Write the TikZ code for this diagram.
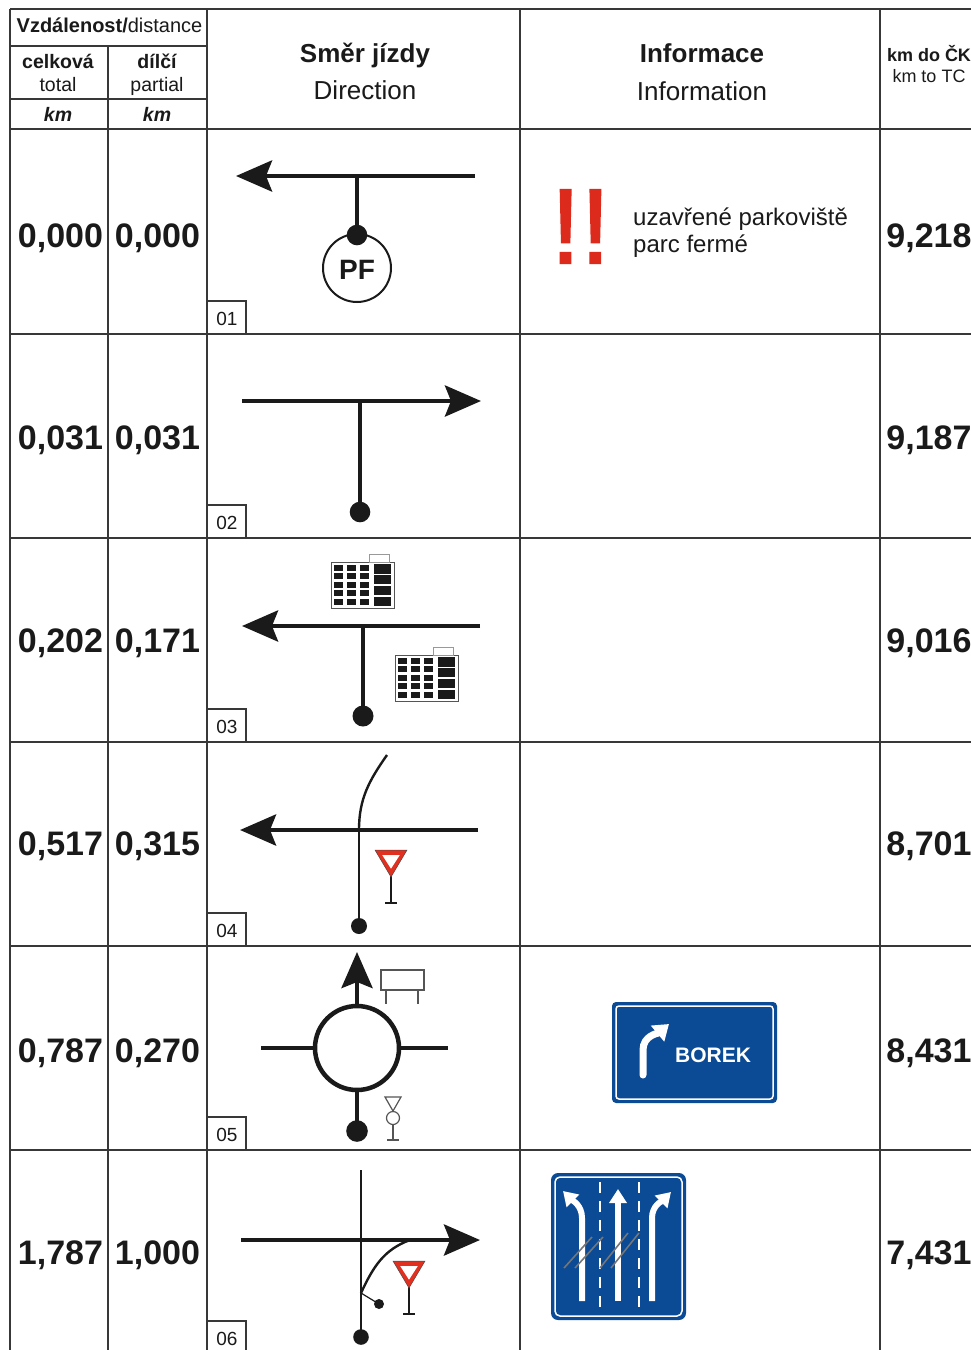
\documentclass[tikz,border=0pt]{standalone}
\usepackage{fontspec}
\setmainfont{Liberation Sans}
\newfontfamily\exfont[FakeBold=1.6]{Liberation Sans}
\usetikzlibrary{arrows.meta}
\definecolor{ink}{HTML}{1A1A1A}
\definecolor{grid}{HTML}{383838}
\definecolor{bgray}{HTML}{555555}
\definecolor{signblue}{HTML}{0B4A94}
\definecolor{alarm}{HTML}{DC2B1C}
\definecolor{yieldred}{HTML}{E1301F}
\definecolor{hatch}{HTML}{767676}
\tikzset{
  building/.pic={
    \draw[draw=bgray, line width=0.9pt, fill=white] (0,0) rectangle (63,46);
    \draw[draw=bgray!60, line width=0.9pt] (38,0) rectangle (58,-8);
    \foreach \i in {0,1,2} \foreach \j in {0,...,4}
      \fill[ink] ({3.3+13*\i},{2.6+8.6*\j}) rectangle ++(8.8,6);
    \foreach \j in {0,...,3}
      \fill[ink] (43,{2.4+10.7*\j}) rectangle ++(17,9.2);
  },
  yieldsign/.pic={
    \draw[ink, line width=1.3pt] (0,26) -- (0,53);
    \draw[ink, line width=1.3pt] (-6,53) -- (6,53);
    \filldraw[fill=yieldred, draw=ink!80, line width=0.5pt] (-16,0) -- (16,0) -- (0,27) -- cycle;
    \fill[white] (-8.8,5) -- (8.8,5) -- (0,18.7) -- cycle;
  }
}
\begin{document}
\begin{tikzpicture}[x=1pt,y=-1pt,
  gridline/.style={draw=grid, line width=1.3pt},
  road/.style={draw=ink, line width=4.5pt},
  thinroad/.style={draw=ink, line width=2.4pt},
  bigtip/.tip={Stealth[length=36pt,width=31pt,inset=6pt]},
  numtxt/.style={font=\bfseries\fontsize{34}{36}\selectfont, text=ink, inner sep=0pt, anchor=base},
  hdb/.style={font=\bfseries\fontsize{19.5}{21}\selectfont, text=ink, inner sep=0pt, anchor=base},
  hdr/.style={font=\fontsize{19.5}{21}\selectfont, text=ink, inner sep=0pt, anchor=base},
  bigb/.style={font=\bfseries\fontsize{26}{28}\selectfont, text=ink, inner sep=0pt, anchor=base},
  bigr/.style={font=\fontsize{26}{28}\selectfont, text=ink, inner sep=0pt, anchor=base},
  tcb/.style={font=\bfseries\fontsize{18}{20}\selectfont, text=ink, inner sep=0pt, anchor=base},
  tcr/.style={font=\fontsize{18}{20}\selectfont, text=ink, inner sep=0pt, anchor=base},
  idx/.style={font=\fontsize{19}{21}\selectfont, text=ink, inner sep=0pt, anchor=base},
  infotxt/.style={font=\fontsize{24}{27}\selectfont, text=ink, inner sep=0pt, anchor=base west},
  smallsym/.style={draw=bgray, line width=1.2pt}
]
\useasboundingbox (0,0) rectangle (971,1350);
\fill[white] (0,0) rectangle (971,1350);
\clip (0,0) rectangle (971,1350);

% ---------- grid ----------
\draw[gridline] (10,9) -- (1000,9);
\foreach \x in {10,207,520,880} \draw[gridline] (\x,9) -- (\x,1360);
\draw[gridline] (108,46) -- (108,1360);
\draw[gridline] (10,46) -- (207,46);
\draw[gridline] (10,99) -- (207,99);
\foreach \y in {129,334,538,742,946,1150} \draw[gridline] (10,\y) -- (1000,\y);
\foreach \b/\n in {334/01,538/02,742/03,946/04,1150/05,1354/06}{
  \draw[gridline] (207,\b-33) -- (246,\b-33) -- (246,\b);
  \node[idx] (idx\n) at (227,\b-9) {\n};
}

% ---------- header ----------
\node[inner sep=0pt, anchor=base, text=ink] (hdist) at (109.5,32)
  {\fontsize{20}{21}\selectfont\textbf{Vzdálenost/}distance};
\node[hdb] (hcel) at (58,68) {celková};
\node[hdr] (htot) at (58,91) {total};
\node[hdb] (hdil) at (157,68) {dílčí};
\node[hdr] (hpar) at (157,91) {partial};
\node[hdb, font=\bfseries\itshape\fontsize{19.5}{21}\selectfont] (hkm1) at (58,121) {km};
\node[hdb, font=\bfseries\itshape\fontsize{19.5}{21}\selectfont] (hkm2) at (157,121) {km};
\node[bigb] (hsm) at (365,62) {Směr jízdy};
\node[bigr] (hdir) at (365,99) {Direction};
\node[bigb] (hinf) at (702,62) {Informace};
\node[bigr] (hinfo) at (702,100) {Information};
\node[tcb] (hck) at (929,61) {km do ČK};
\node[tcr] (htc) at (929,82) {km to TC};

% ---------- distances ----------
\node[numtxt] (t1) at (60.5,247) {0,000};  \node[numtxt] (p1) at (157.5,247) {0,000};  \node[numtxt] (c1) at (929,247) {9,218};
\node[numtxt] (t2) at (60.5,449) {0,031};  \node[numtxt] (p2) at (157.5,449) {0,031};  \node[numtxt] (c2) at (929,449) {9,187};
\node[numtxt] (t3) at (60.5,652) {0,202};  \node[numtxt] (p3) at (157.5,652) {0,171};  \node[numtxt] (c3) at (929,652) {9,016};
\node[numtxt] (t4) at (60.5,855) {0,517};  \node[numtxt] (p4) at (157.5,855) {0,315};  \node[numtxt] (c4) at (929,855) {8,701};
\node[numtxt] (t5) at (60.5,1062) {0,787}; \node[numtxt] (p5) at (157.5,1062) {0,270}; \node[numtxt] (c5) at (929,1062) {8,431};
\node[numtxt] (t6) at (60.5,1264) {1,787}; \node[numtxt] (p6) at (157.5,1264) {1,000}; \node[numtxt] (c6) at (929,1264) {7,431};

% ---------- row 1 ----------
\coordinate (r1e) at (475,176); \coordinate (r1w) at (236,176);
\coordinate (r1j) at (357,176); \coordinate (r1d) at (357,235);
\draw[road, -{bigtip}] (r1e) -- (r1w);
\draw[road] (r1j) -- (r1d);
\draw[ink, line width=2pt] (357,268) circle (34);
\fill[ink] (r1d) circle (10.3);
\node[font=\bfseries\fontsize{28}{30}\selectfont, text=ink, inner sep=0pt] (pf) at (357,270) {PF};
\node[font=\exfont\fontsize{107}{110}\selectfont, text=alarm, inner sep=0pt] (excl) at (580.5,226.5) {!!};
\node[infotxt] (inf1a) at (633,225) {uzavřené parkoviště};
\node[infotxt] (inf1b) at (633,252) {parc fermé};

% ---------- row 2 ----------
\coordinate (r2w) at (242,401); \coordinate (r2e) at (481,401);
\coordinate (r2j) at (360,401); \coordinate (r2d) at (360,512);
\draw[road, -{bigtip}] (r2w) -- (r2e);
\draw[road] (r2j) -- (r2d);
\fill[ink] (r2d) circle (10.3);

% ---------- row 3 ----------
\pic at (331,562) {building};
\pic at (395,655) {building};
\coordinate (r3e) at (480,626); \coordinate (r3w) at (242,626);
\coordinate (r3j) at (363,626); \coordinate (r3d) at (363,716);
\draw[road, -{bigtip}] (r3e) -- (r3w);
\draw[road] (r3j) -- (r3d);
\fill[ink] (r3d) circle (10.5);

% ---------- row 4 ----------
\coordinate (r4e) at (478,830); \coordinate (r4w) at (240,830);
\coordinate (r4j) at (359,830); \coordinate (r4d) at (359,926);
\coordinate (r4n) at (387,755);
\draw[thinroad] (r4j) to[out=90,in=-125] (r4n);
\draw[thinroad] (r4j) -- (r4d);
\draw[road, -{bigtip}] (r4e) -- (r4w);
\fill[ink] (r4d) circle (8);
\pic at (391,850) {yieldsign};

% ---------- row 5 ----------
\coordinate (r5c) at (357,1048);
\draw[road] (261,1048) -- (314,1048);
\draw[road] (400,1048) -- (448,1048);
\draw[road, -{bigtip}] (357,1005) -- (357,952);
\draw[road] (357,1091) -- (357,1131);
\draw[ink, line width=4.5pt] (r5c) circle (42);
\fill[ink] (357,1131) circle (10.8);
\draw[smallsym] (381,970) rectangle (424,990);
\draw[smallsym] (386,990) -- (386,1004);
\draw[smallsym] (418,990) -- (418,1004);
\draw[smallsym] (385,1097) -- (401,1097) -- (393,1111) -- cycle;
\draw[smallsym] (393,1118) circle (6.5);
\draw[smallsym] (393,1124.5) -- (393,1140);
\draw[smallsym] (387,1140) -- (399,1140);
% BOREK sign
\fill[signblue, rounded corners=4pt] (612,1002) rectangle (777,1103);
\draw[white, line width=1.5pt, rounded corners=3pt] (616,1006) rectangle (773,1099);
\draw[white, line width=7pt, line cap=round, -{Triangle[length=15pt,width=20pt]}]
  (643,1075) -- (643,1050) to[out=90,in=220] (669,1024);
\node[font=\bfseries\fontsize{21}{23}\selectfont, text=white, inner sep=0pt, anchor=base west] (borek) at (675,1062) {BOREK};

% ---------- row 6 ----------
\coordinate (r6w) at (241,1240); \coordinate (r6e) at (480,1240);
\coordinate (r6n) at (361,1170); \coordinate (r6d) at (361,1337);
\coordinate (r6k) at (361,1293); \coordinate (r6m) at (410,1240);
\draw[thinroad] (r6n) -- (r6d);
\draw[road, -{bigtip}] (r6w) -- (r6e);
\draw[ink, line width=2.4pt] (r6k) to[out=65,in=200] (r6m);
\draw[ink, line width=1.2pt] (r6k) -- (379,1304);
\fill[ink] (379,1304) circle (5);
\fill[ink] (r6d) circle (7.8);
\pic at (409,1261) {yieldsign};
% lane sign
\fill[signblue, rounded corners=7pt] (551,1173) rectangle (686,1320);
\draw[white, line width=1.5pt, rounded corners=5pt] (555,1177) rectangle (682,1316);
\foreach \x in {600,639} \draw[white, line width=2.6pt, dash pattern=on 11pt off 8pt] (\x,1182) -- (\x,1308);
\draw[white, line width=6pt, -{Triangle[length=14pt,width=17pt]}] (618,1301) -- (618,1189);
\draw[white, line width=6pt, -{Triangle[length=14pt,width=17pt]}] (582,1301) -- (582,1218) to[out=90,in=-45] (563,1191);
\draw[white, line width=6pt, -{Triangle[length=14pt,width=17pt]}] (652,1301) -- (652,1218) to[out=90,in=225] (671,1192);
\foreach \a/\b in {564/592,575/603} \draw[hatch, line width=1.6pt] (\a,1268) -- (\b,1237);
\foreach \a/\b in {600/628,611/639} \draw[hatch, line width=1.6pt] (\a,1268) -- (\b,1233);
\end{tikzpicture}
\end{document}
